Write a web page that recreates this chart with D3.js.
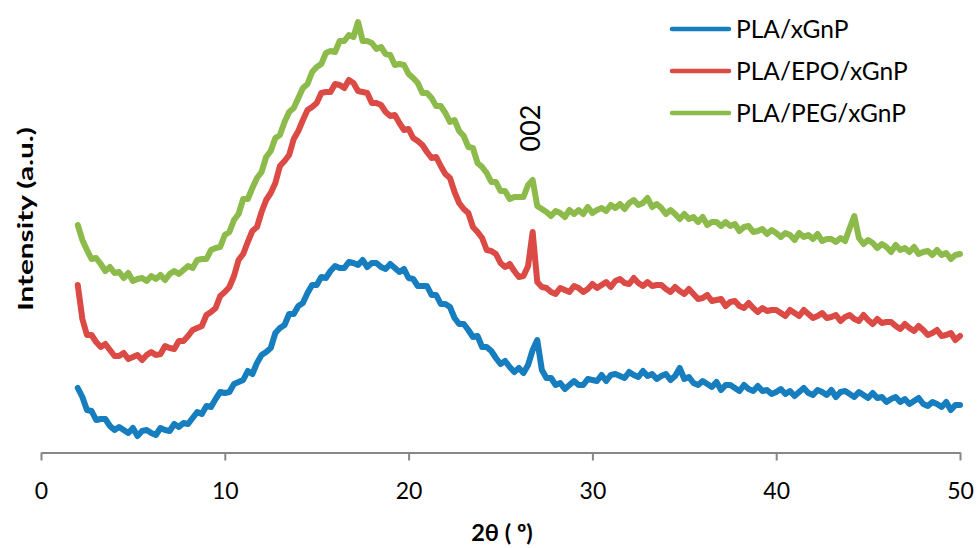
<!DOCTYPE html>
<html>
<head>
<meta charset="utf-8">
<script src="https://cdn.jsdelivr.net/npm/d3@7"></script>
<style>
  html, body { margin: 0; padding: 0; background: #fff; }
  svg { display: block; }
  text { font-family: Lato, "Open Sans", sans-serif; fill: #000; }
</style>
</head>
<body>
<svg id="chart" width="977" height="548"></svg>
<script>
// XRD patterns, 2θ from 2° to 50° in 0.25° steps (intensity in arbitrary units, offset per sample)
const startAngle = 2;
const stepAngle = 0.25;

const seriesNames = ["PLA/xGnP", "PLA/EPO/xGnP", "PLA/PEG/xGnP"];
const seriesColors = ["#167dbf", "#dc4a46", "#8cbb4b"];

const plaXgnp = [
  64, 55, 42, 41, 32, 33, 33, 26, 22, 25, 22, 19, 24, 16, 21, 22, 19, 17, 24, 22,
  21, 28, 25, 29, 28, 34, 40, 38, 46, 45, 53, 60, 59, 60, 68, 70, 72, 81, 78, 89,
  97, 100, 104, 119, 124, 127, 138, 138, 146, 149, 159, 167, 167, 175, 174, 181, 186, 184, 184, 190,
  189, 187, 192, 185, 189, 189, 185, 183, 188, 184, 180, 183, 174, 173, 166, 166, 166, 157, 157, 148,
  148, 145, 134, 128, 128, 122, 115, 116, 105, 105, 101, 94, 88, 91, 85, 80, 84, 79, 87, 102,
  112, 82, 74, 74, 67, 69, 63, 67, 71, 67, 67, 73, 72, 71, 77, 71, 77, 78, 76, 74,
  80, 77, 75, 81, 76, 78, 73, 76, 78, 72, 76, 84, 73, 75, 69, 67, 71, 68, 65, 70,
  62, 67, 67, 64, 61, 67, 63, 61, 66, 61, 62, 58, 60, 63, 58, 61, 56, 60, 64, 59,
  57, 62, 60, 57, 62, 55, 60, 61, 58, 55, 60, 57, 54, 59, 54, 55, 50, 53, 55, 50,
  53, 48, 51, 54, 48, 46, 50, 48, 45, 50, 42, 47, 47
];

const plaEpoXgnp = [
  167, 133, 117, 117, 110, 105, 108, 102, 96, 96, 99, 93, 95, 97, 92, 97, 100, 97, 98, 106,
  104, 103, 111, 111, 116, 122, 124, 126, 137, 140, 144, 156, 160, 165, 176, 192, 198, 210, 221, 225,
  240, 252, 259, 269, 286, 291, 297, 313, 321, 332, 342, 345, 349, 359, 360, 360, 368, 367, 364, 372,
  369, 361, 360, 359, 349, 349, 347, 340, 336, 337, 329, 322, 323, 314, 311, 307, 300, 294, 295, 286,
  278, 274, 260, 249, 243, 239, 225, 220, 214, 202, 201, 198, 189, 185, 188, 181, 175, 176, 186, 220,
  170, 165, 164, 160, 158, 164, 162, 160, 166, 164, 160, 163, 168, 164, 167, 170, 165, 171, 173, 169,
  168, 174, 169, 166, 170, 166, 167, 167, 163, 160, 165, 161, 158, 163, 158, 153, 154, 157, 151, 152,
  153, 146, 150, 151, 146, 144, 149, 144, 140, 144, 141, 142, 142, 139, 136, 142, 139, 136, 142, 138,
  134, 136, 139, 134, 135, 137, 131, 135, 137, 133, 131, 137, 132, 128, 133, 129, 130, 130, 126, 123,
  128, 124, 121, 126, 122, 117, 119, 122, 116, 117, 119, 112, 116
];

const plaPegXgnp = [
  227, 212, 202, 193, 194, 188, 181, 185, 179, 180, 174, 179, 171, 173, 174, 171, 176, 173, 177, 172,
  178, 181, 178, 182, 186, 184, 192, 193, 193, 202, 204, 205, 217, 220, 232, 238, 253, 253, 264, 274,
  280, 295, 301, 314, 317, 330, 340, 344, 354, 364, 368, 380, 385, 388, 399, 401, 400, 411, 411, 417,
  415, 430, 411, 411, 409, 403, 405, 398, 397, 387, 388, 387, 378, 374, 369, 359, 359, 354, 346, 346,
  339, 330, 332, 321, 316, 305, 304, 289, 285, 279, 270, 270, 261, 261, 253, 255, 255, 255, 267, 272,
  246, 243, 240, 236, 241, 239, 235, 242, 238, 242, 238, 245, 239, 242, 244, 241, 247, 244, 248, 243,
  249, 252, 247, 249, 254, 245, 248, 244, 238, 242, 238, 233, 238, 233, 235, 230, 235, 227, 230, 230,
  226, 230, 226, 228, 221, 225, 226, 220, 221, 223, 218, 222, 219, 215, 219, 217, 212, 219, 215, 217,
  213, 218, 211, 213, 213, 210, 214, 211, 224, 236, 214, 208, 212, 209, 204, 208, 205, 200, 207, 202,
  204, 200, 205, 198, 200, 201, 197, 202, 197, 199, 193, 197, 198
];

const xTicks = [0, 10, 20, 30, 40, 50];
const xTitle = "2θ ( º)";
const yTitle = "Intensity (a.u.)";
const peakLabel = "002";
const peakLabelAngle = 26.7;
const peakLabelIntensity = 324;

const allSeries = [plaXgnp, plaEpoXgnp, plaPegXgnp];
const twoTheta = d3.range(plaXgnp.length).map(i => startAngle + i * stepAngle);

const svg = d3.select("#chart");

const x = d3.scaleLinear().domain([0, 50]).range([41, 960]);
const y = d3.scaleLinear().domain([0, 450]).range([452, 2]);

// x axis
const axis = svg.append("g")
  .attr("transform", "translate(0,452.5)")
  .call(d3.axisBottom(x).tickValues(xTicks).tickSize(8).tickSizeOuter(0).tickPadding(22));
axis.select(".domain").attr("stroke", "#878787").attr("stroke-width", 2);
axis.selectAll(".tick line").attr("stroke", "#878787").attr("stroke-width", 2);
axis.selectAll(".tick text")
  .attr("font-family", "Lato, 'Open Sans', sans-serif")
  .attr("font-size", 23)
  .attr("fill", "#000");

// series
const line = d3.line()
  .x((d, i) => x(twoTheta[i]))
  .y(d => y(d));

svg.append("g").selectAll("path")
  .data(allSeries)
  .join("path")
  .attr("d", line)
  .attr("fill", "none")
  .attr("stroke", (d, i) => seriesColors[i])
  .attr("stroke-width", 6)
  .attr("stroke-linejoin", "round")
  .attr("stroke-linecap", "round");

// axis titles
svg.append("text")
  .attr("x", 502)
  .attr("y", 541)
  .attr("text-anchor", "middle")
  .attr("font-weight", "bold")
  .attr("font-size", 23.5)
  .text(xTitle);

svg.append("text")
  .attr("transform", "translate(33,219) rotate(-90)")
  .attr("text-anchor", "middle")
  .attr("font-family", "'Open Sans', Lato, sans-serif")
  .attr("font-weight", "bold")
  .attr("font-size", 21)
  .attr("textLength", 184)
  .attr("lengthAdjust", "spacingAndGlyphs")
  .text(yTitle);

// reflection label
svg.append("text")
  .attr("transform", `translate(${x(peakLabelAngle) + 8},${y(peakLabelIntensity)}) rotate(-90)`)
  .attr("text-anchor", "middle")
  .attr("font-size", 27)
  .text(peakLabel);

// legend
const legend = svg.append("g").attr("transform", "translate(672,29)");
const rows = legend.selectAll("g")
  .data(seriesNames)
  .join("g")
  .attr("transform", (d, i) => `translate(0,${i * 42})`);
rows.append("line")
  .attr("x1", 0).attr("x2", 57)
  .attr("stroke", (d, i) => seriesColors[i])
  .attr("stroke-width", 4.5)
  .attr("stroke-linecap", "round");
rows.append("text")
  .attr("x", 64)
  .attr("dy", "0.35em")
  .attr("font-size", 24.5)
  .text(d => d);
</script>
</body>
</html>
